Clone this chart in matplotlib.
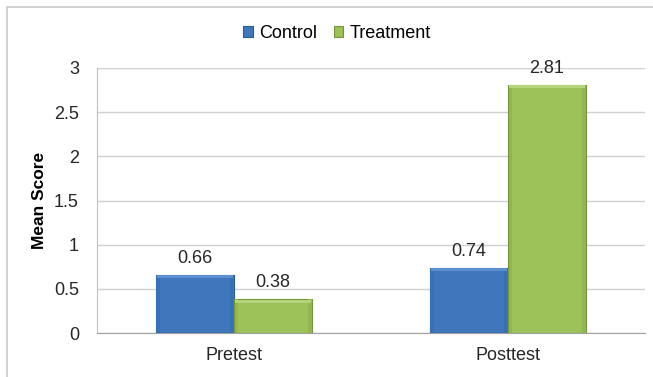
import matplotlib
matplotlib.use("Agg")
import matplotlib.pyplot as plt
from matplotlib.patches import Rectangle
import numpy as np

categories = ["Pretest", "Posttest"]
series_names = ["Control", "Treatment"]
control = [0.66, 0.74]
treatment = [0.38, 2.81]
yticks = [0, 0.5, 1, 1.5, 2, 2.5, 3]
ytick_labels = ["0", "0.5", "1", "1.5", "2", "2.5", "3"]

plt.rcParams['font.family'] = ['Liberation Sans', 'DejaVu Sans']
W, H = 653, 377
fig = plt.figure(figsize=(W/100, H/100), dpi=100)
fig.patch.set_facecolor('white')

# outer chart frame
fig.patches.append(Rectangle((7/W, -0.1), 1.2, 1 - 7/H + 0.1, transform=fig.transFigure,
                             fill=False, edgecolor='#c8c8c8', linewidth=1.2))

ax = fig.add_axes([97/W, 1 - 333/H, (645-97)/W, (333-68)/H])
x = np.arange(len(categories))
w = 0.285
body = ['#3F76BC', '#9DC25A']
top_c = ['#5A8FD0', '#B3D47A']
side_c = ['#3770B3', '#91B652']
edges = ['#2C5A94', '#76933C']

handles = []
for k, (vals, off) in enumerate(((control, -w/2), (treatment, w/2))):
    xs = x + off
    b = ax.bar(xs, vals, w, color=body[k], edgecolor=edges[k], linewidth=0.8,
               label=series_names[k], zorder=3)
    handles.append(b)
    sw = 0.012
    ax.bar(xs - w/2 + sw/2 + 0.002, vals, sw, color=side_c[k], linewidth=0, zorder=3.5)
    ax.bar(xs + w/2 - sw/2 - 0.002, vals, sw, color=side_c[k], linewidth=0, zorder=3.5)
    th = 0.035
    ax.bar(xs, [th]*len(vals), w - 0.006, bottom=np.array(vals) - th - 0.006,
           color=top_c[k], linewidth=0, zorder=3.6)
    for xi, v in zip(xs, vals):
        ax.text(xi, v + 0.09, f"{v:.2f}", ha='center', va='bottom',
                fontsize=13, color='#262626', zorder=4)

ax.set_xlim(-0.5, 1.5)
ax.set_ylim(0, 3)
ax.set_yticks(yticks)
ax.set_yticklabels(ytick_labels)
ax.set_xticks(x)
ax.set_xticklabels(categories)
ax.tick_params(axis='both', length=0, labelsize=13, colors='#262626')
ax.tick_params(axis='y', pad=13)
ax.tick_params(axis='x', pad=10)
ax.yaxis.grid(True, color='#d0d0d0', linewidth=1)
ax.set_axisbelow(True)
for s in ['top', 'right']:
    ax.spines[s].set_visible(False)
ax.spines['left'].set_color('#c0c0c0')
ax.spines['bottom'].set_color('#a0a0a0')
ax.set_ylabel("Mean Score", fontsize=12.5, fontweight='bold', labelpad=5, color='#000000')

fig.legend(handles=handles, labels=series_names, loc='center', bbox_to_anchor=(337/W, 1 - 33/H),
           ncol=2, frameon=False, fontsize=13, handlelength=0.55, handleheight=0.55,
           handletextpad=0.35, columnspacing=0.9)

fig.savefig("out.png", dpi=100)
